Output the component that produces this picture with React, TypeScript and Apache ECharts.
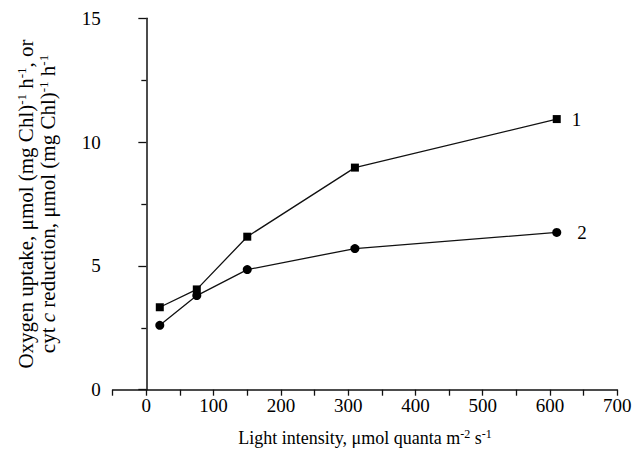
import React, { useEffect, useRef } from "react";
import * as echarts from "echarts";

const lightIntensity = [20, 75, 150, 310, 610];
const series1Values = [3.33, 4.05, 6.18, 8.97, 10.93];
const series2Values = [2.6, 3.8, 4.85, 5.7, 6.35];
const seriesLabels = ["1", "2"];
const xTicks = [0, 100, 200, 300, 400, 500, 600, 700];
const yTicks = [0, 5, 10, 15];

const FONT = "'Liberation Serif', 'Times New Roman', 'DejaVu Serif', serif";

export default function App() {
  const ref = useRef<HTMLDivElement>(null);
  useEffect(() => {
    if (!ref.current) return;
    const chart = echarts.init(ref.current, null, { renderer: "svg" });
    const mk = (vals: number[], label: string) =>
      vals.map((v, i) => {
        const item: any = { value: [lightIntensity[i], v] };
        if (i === vals.length - 1) {
          item.label = {
            show: true,
            formatter: label,
            position: "right",
            distance: label === "1" ? 11 : 16,
            fontFamily: FONT,
            fontSize: 19,
            color: "#000",
          };
        }
        return item;
      });
    const xBase = { fontSize: 18, fontFamily: FONT, color: "#000", lineHeight: 20 };
    const yBase = { fontSize: 21, fontFamily: FONT, color: "#000", lineHeight: 22 };
    chart.setOption({
      animation: false,
      backgroundColor: "#fff",
      textStyle: { fontFamily: FONT, color: "#000" },
      grid: { left: 112.7, right: 19.7, top: 18.3, bottom: 68.3, containLabel: false },
      xAxis: {
        type: "value",
        min: -50,
        max: 700,
        interval: 50,
        axisLine: { show: true, lineStyle: { color: "#111", width: 1.5 } },
        axisTick: { show: true, length: 6, lineStyle: { color: "#111", width: 1.3 } },
        splitLine: { show: false },
        axisLabel: {
          margin: 6,
          fontFamily: FONT,
          fontSize: 19,
          color: "#000",
          formatter: (v: number) => (xTicks.includes(v) ? String(v) : ""),
        },
        name: "{n|Light intensity, μmol quanta m}{sup|-2}{n| s}{sup|-1}",
        nameLocation: "middle",
        nameGap: 38,
        nameTextStyle: {
          ...xBase,
          rich: {
            n: xBase,
            sup: { fontSize: 12, fontFamily: FONT, color: "#000", lineHeight: 20, verticalAlign: "top" },
          },
        },
      },
      yAxis: {
        type: "value",
        min: 0,
        max: 15,
        interval: 5,
        axisLine: { show: true, lineStyle: { color: "#111", width: 1.5 } },
        axisTick: { show: true, length: 8, lineStyle: { color: "#111", width: 1.3 } },
        minorTick: { show: true, splitNumber: 2, length: 5, lineStyle: { color: "#111", width: 1.3 } },
        splitLine: { show: false },
        axisLabel: {
          margin: 12,
          fontFamily: FONT,
          fontSize: 19,
          color: "#000",
          formatter: (v: number) => (yTicks.includes(v) ? String(v) : ""),
        },
        name:
          "{n|Oxygen uptake, μmol (mg Chl)}{sup|-1}{n| h}{sup|-1}{n|, or}\n{n|cyt }{it|c}{n| reduction, μmol (mg Chl)}{sup|-1}{n| h}{sup|-1}",
        nameLocation: "middle",
        nameGap: 54,
        nameRotate: 90,
        nameTextStyle: {
          ...yBase,
          rich: {
            n: yBase,
            sup: { fontSize: 13, fontFamily: FONT, color: "#000", lineHeight: 22, verticalAlign: "top" },
            it: { ...yBase, fontStyle: "italic" },
          },
        },
      },
      series: [
        {
          type: "line",
          data: mk(series1Values, seriesLabels[0]),
          symbol: "rect",
          symbolSize: 8,
          lineStyle: { color: "#111", width: 1.3 },
          itemStyle: { color: "#000" },
        },
        {
          type: "line",
          data: mk(series2Values, seriesLabels[1]),
          symbol: "circle",
          symbolSize: 9,
          lineStyle: { color: "#111", width: 1.3 },
          itemStyle: { color: "#000" },
        },
      ],
    });
    return () => chart.dispose();
  }, []);
  return (
    <div
      ref={ref}
      style={{ position: "fixed", left: 0, top: 0, width: 637, height: 458, background: "#fff" }}
    />
  );
}
